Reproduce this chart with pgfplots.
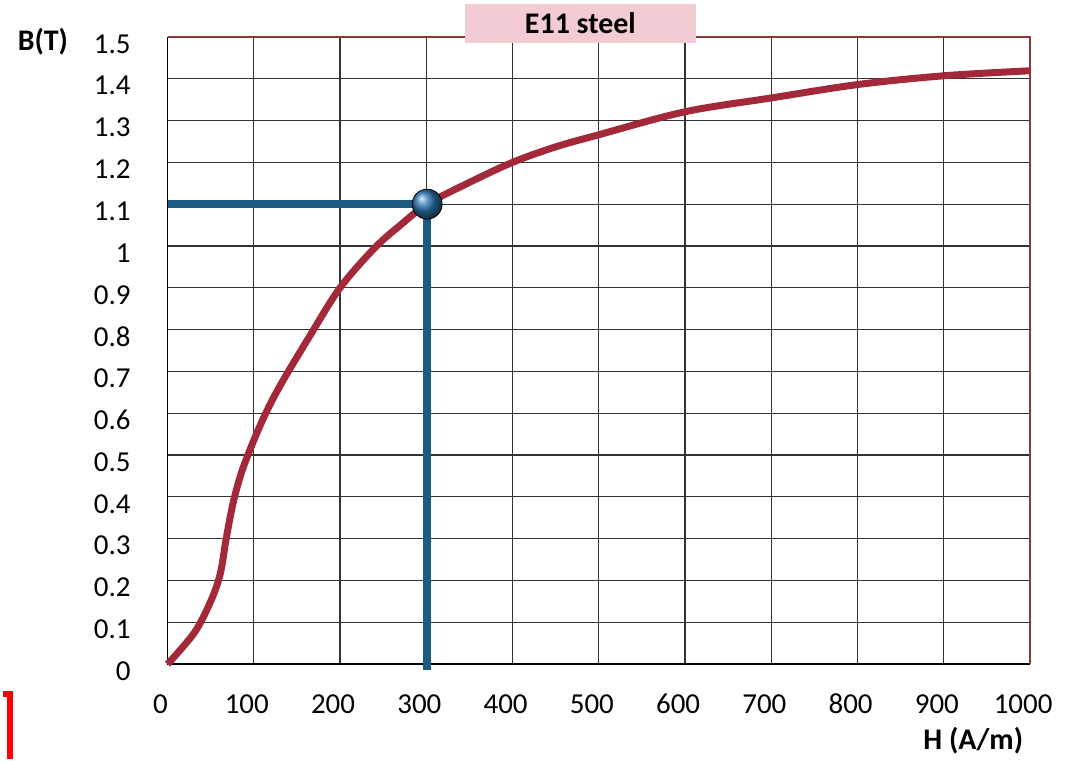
\documentclass[border=0pt]{standalone}
\usepackage{pgfplots}
\pgfplotsset{compat=1.18}
\usepackage{fontspec}
\setmainfont{Carlito}
\definecolor{curvered}{HTML}{A3283A}
\definecolor{bluel}{HTML}{1D5A82}
\definecolor{ballblue}{HTML}{2A74AE}
\definecolor{frame}{HTML}{8B3A3A}
\definecolor{boxpink}{HTML}{F2CCD2}
\begin{document}
\begin{tikzpicture}
\begin{axis}[
  name=ax,
  scale only axis,
  width=432.5pt, height=314.5pt,
  xmin=0, xmax=1000, ymin=0, ymax=1.5,
  xtick={0,100,...,1000},
  ytick={0,0.1,...,1.5},
  major tick length=0pt,
  grid=major,
  major grid style={black!80, line width=0.6pt},
  axis line style={draw=none},
  clip=false,
  scaled ticks=false,
  /pgf/number format/assume math mode=true,
  /pgf/number format/1000 sep={},
  ticklabel style={font=\fontsize{14.5}{17}\selectfont, text=black},
  yticklabel style={anchor=east, xshift=-15pt, yshift=-3.5pt},
  xticklabel style={anchor=center, yshift=-20pt, xshift=-3.5pt},
]
\draw[black, line width=0.8pt] (rel axis cs:0,1) -- (rel axis cs:0,0) -- (rel axis cs:1,0);
\draw[frame, line width=0.8pt] (rel axis cs:0,1) -- (rel axis cs:1,1) -- (rel axis cs:1,0);
\addplot[curvered, line width=3.5pt, smooth, tension=0.55] coordinates {
(0,0) (31,0.075) (50,0.15) (61,0.215) (68,0.30) (76,0.385) (86,0.46) (100,0.535)
(115,0.605) (133,0.675) (165,0.785) (200,0.9) (240,0.995) (270,1.05) (301,1.1)
(350,1.152) (400,1.2) (450,1.237) (500,1.266) (600,1.321) (700,1.354) (800,1.386) (900,1.407) (1000,1.419)
};
\addplot[bluel, line width=3.8pt] coordinates {(0,1.1) (301,1.1)};
\addplot[bluel, line width=3.8pt] coordinates {(301,1.1) (301,-0.015)};
\addplot[only marks, mark=ball, mark size=7.5pt, mark options={ball color=ballblue}] coordinates {(301,1.1)};
\node[font=\fontsize{15}{18}\selectfont\bfseries, xshift=-62.5pt, yshift=-2.5pt] at (axis description cs:0,1) {B(T)};
\node[font=\fontsize{15}{18}\selectfont\bfseries, anchor=east, yshift=-38.5pt] at (axis description cs:1,0) {H (A/m)};
\node[fill=boxpink, minimum width=116pt, minimum height=19.5pt, inner sep=0pt,
      font=\fontsize{15}{18}\selectfont\bfseries, yshift=6.75pt] at (axis description cs:0.4786,1) {E11 steel};
\end{axis}
\begin{scope}[shift={(ax.south west)}]
\path (-82.5pt,-47.5pt) rectangle (453pt,333pt);
\draw[red, line width=3pt] (-82.5pt,-15pt) -- (-79pt,-15pt) -- (-79pt,-47.5pt);
\end{scope}
\end{tikzpicture}
\end{document}
